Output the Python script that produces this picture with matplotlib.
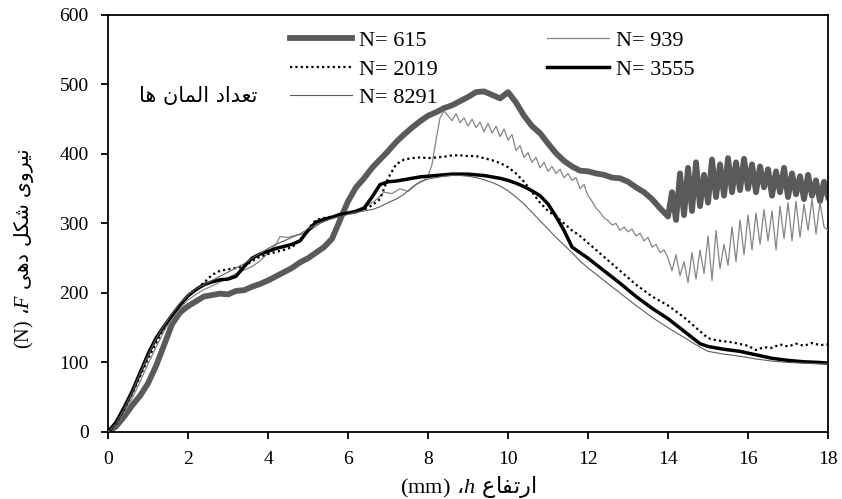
"""Forming force vs. height for different element counts (PNG)."""

import matplotlib

matplotlib.use("Agg")
import matplotlib.pyplot as plt

plt.rcParams["font.family"] = ["Liberation Serif", "DejaVu Sans"]
plt.rcParams["mathtext.fontset"] = "custom"
plt.rcParams["mathtext.rm"] = "Liberation Serif"
plt.rcParams["mathtext.it"] = "Liberation Serif:italic"

# N = 615 (thick gray)
x_615 = [0, 0.2, 0.4, 0.6, 0.8, 1.0, 1.2, 1.4, 1.6, 1.8, 2.0, 2.2, 2.4, 2.6, 2.8, 3.0,
         3.2, 3.4, 3.6, 3.8, 4.0, 4.2, 4.4, 4.6, 4.8, 5.0, 5.2, 5.4, 5.6, 5.8, 6.0,
         6.2, 6.4, 6.6, 6.8, 7.0, 7.2, 7.4, 7.6, 7.8, 8.0, 8.2, 8.4, 8.6, 8.8, 9.0,
         9.2, 9.4, 9.6, 9.8, 10.0, 10.2, 10.4, 10.6, 10.8, 11.0, 11.2, 11.4, 11.6,
         11.8, 12.0, 12.2, 12.4, 12.6, 12.8, 13.0, 13.2, 13.4, 13.6, 13.8, 14.0,
         14.1, 14.2, 14.3, 14.4, 14.5, 14.6, 14.7, 14.8, 14.9, 15.0, 15.1, 15.2,
         15.3, 15.4, 15.5, 15.6, 15.7, 15.8, 15.9, 16.0, 16.1, 16.2, 16.3, 16.4,
         16.5, 16.6, 16.7, 16.8, 16.9, 17.0, 17.1, 17.2, 17.3, 17.4, 17.5, 17.6,
         17.7, 17.8, 17.9, 18.0]
f_615 = [0, 8, 22, 38, 52, 70, 95, 125, 155, 172, 181, 188, 195, 197, 199, 198,
         203, 204, 209, 213, 218, 224, 230, 236, 244, 250, 258, 266, 278, 305, 332,
         352, 365, 380, 392, 404, 417, 428, 438, 447, 455, 460, 466, 470, 476, 482,
         489, 490, 485, 480, 489, 474, 455, 440, 430, 415, 401, 390, 382,
         376, 375, 372, 370, 366, 365, 360, 352, 345, 335, 322, 310,
         345, 305, 372, 312, 380, 318, 388, 325, 370, 330, 392, 338,
         385, 340, 394, 345, 388, 348, 393, 350, 385, 345, 382, 352,
         378, 340, 375, 345, 380, 338, 372, 342, 368, 335, 370, 340,
         362, 332, 360, 338]

# N = 939 (thin gray, noisy)
x_939 = [0, 0.2, 0.4, 0.6, 0.8, 1.0, 1.2, 1.4, 1.6, 1.8, 2.0, 2.2, 2.4, 2.6, 2.8, 3.0,
         3.2, 3.4, 3.6, 3.8, 4.0, 4.2, 4.3, 4.5, 4.7, 4.9, 5.1, 5.3, 5.5, 5.7, 5.9,
         6.1, 6.3, 6.5, 6.7, 6.9, 7.1, 7.3, 7.5, 7.7, 7.9, 8.0, 8.1, 8.2, 8.3, 8.4,
         8.5, 8.6, 8.7, 8.8, 8.9, 9.0, 9.1, 9.2, 9.3, 9.4, 9.5, 9.6, 9.7, 9.8, 9.9,
         10.0, 10.1, 10.2, 10.3, 10.4, 10.5, 10.6, 10.7, 10.8, 10.9, 11.0, 11.1,
         11.2, 11.3, 11.4, 11.5, 11.6, 11.7, 11.8, 11.9, 12.0, 12.1, 12.2, 12.3,
         12.4, 12.5, 12.6, 12.7, 12.8, 12.9, 13.0, 13.1, 13.2, 13.3, 13.4, 13.5,
         13.6, 13.7, 13.8, 13.9, 14.0, 14.1, 14.2, 14.3, 14.4, 14.5, 14.6, 14.7,
         14.8, 14.9, 15.0, 15.1, 15.2, 15.3, 15.4, 15.5, 15.6, 15.7, 15.8, 15.9,
         16.0, 16.1, 16.2, 16.3, 16.4, 16.5, 16.6, 16.7, 16.8, 16.9, 17.0, 17.1,
         17.2, 17.3, 17.4, 17.5, 17.6, 17.7, 17.8, 17.9, 18.0]
f_939 = [0, 10, 28, 48, 72, 98, 122, 145, 163, 178, 190, 198, 205, 210, 216, 222,
         228, 233, 238, 246, 258, 270, 281, 280, 283, 285, 292, 300, 306, 312, 315,
         318, 322, 326, 334, 345, 343, 350, 346, 356, 362, 368, 385, 420, 452, 462,
         455, 448, 458, 445, 452, 440, 450, 438, 446, 432, 444, 430, 440, 425, 436,
         420, 428, 405, 412, 395, 402, 388, 395, 380, 388, 375, 382,
         372, 378, 366, 372, 362, 366, 350, 356, 340, 332, 322, 316,
         308, 304, 298, 300, 290, 295, 288, 292, 282, 286, 275, 280,
         266, 270, 258, 262, 250, 232, 255, 225, 245, 215, 258, 220,
         262, 228, 282, 218, 290, 235, 270, 240, 295, 245, 305, 255,
         312, 262, 315, 270, 320, 275, 318, 262, 325, 278, 330, 275,
         332, 280, 328, 290, 335, 285, 330, 295, 290]

# N = 2019 (dotted)
x_2019 = [0, 0.2, 0.4, 0.6, 0.8, 1.0, 1.2, 1.4, 1.6, 1.8, 2.0, 2.2, 2.4, 2.6, 2.8,
          3.0, 3.2, 3.4, 3.6, 3.8, 4.0, 4.2, 4.4, 4.6, 4.8, 5.0, 5.2, 5.4, 5.6, 5.8,
          6.0, 6.2, 6.4, 6.6, 6.8, 7.0, 7.2, 7.4, 7.6, 7.8, 8.0, 8.2, 8.4, 8.6, 8.8,
          9.0, 9.2, 9.4, 9.6, 9.8, 10.0, 10.2, 10.4, 10.6, 10.8, 11.0, 11.2, 11.4,
          11.6, 11.8, 12.0, 12.4, 12.8, 13.2, 13.6, 14.0, 14.4, 14.8, 15.0, 15.2,
          15.6, 16.0, 16.2, 16.4, 16.6, 16.8, 17.0, 17.2, 17.4, 17.6, 17.8, 18.0]
f_2019 = [0, 12, 32, 55, 80, 105, 128, 150, 168, 182, 195, 205, 215, 226, 232,
          234, 236, 238, 246, 252, 256, 259, 262, 266, 276, 292, 305, 308, 310, 312,
          315, 317, 320, 326, 335, 365, 385, 392, 394, 395, 394, 395, 396, 398, 398,
          397, 397, 394, 391, 387, 381, 372, 360, 345, 330, 318, 310, 300,
          290, 282, 272, 252, 232, 212, 195, 182, 165, 145, 135, 132,
          129, 124, 118, 122, 121, 126, 123, 127, 124, 128, 125, 126]

# N = 3555 (thick black)
x_3555 = [0, 0.2, 0.4, 0.6, 0.8, 1.0, 1.2, 1.4, 1.6, 1.8, 2.0, 2.2, 2.4, 2.6, 2.8,
          3.0, 3.2, 3.4, 3.6, 3.8, 4.0, 4.2, 4.4, 4.6, 4.8, 5.0, 5.2, 5.4, 5.6, 5.8,
          6.0, 6.2, 6.4, 6.6, 6.8, 7.0, 7.2, 7.4, 7.6, 7.8, 8.0, 8.2, 8.4, 8.6, 8.8,
          9.0, 9.2, 9.4, 9.6, 9.8, 10.0, 10.2, 10.4, 10.6, 10.8, 11.0, 11.2, 11.4,
          11.6, 11.8, 12.0, 12.4, 12.8, 13.2, 13.6, 14.0, 14.4, 14.8, 15.0, 15.4,
          15.8, 16.2, 16.6, 17.0, 17.4, 17.8, 18.0]
f_3555 = [0, 14, 35, 58, 85, 112, 135, 152, 168, 183, 196, 205, 212, 216, 219,
          220, 224, 238, 250, 256, 260, 264, 267, 270, 275, 290, 302, 306, 309, 313,
          315, 317, 322, 338, 356, 360, 361, 363, 365, 367, 368, 369, 370, 371, 371,
          371, 370, 369, 367, 365, 362, 358, 353, 347, 340, 328, 310, 290,
          266, 258, 250, 232, 214, 195, 178, 163, 145, 127, 123, 119,
          116, 111, 106, 103, 101, 100, 99]

# N = 8291 (thin dark gray)
x_8291 = [0, 0.2, 0.4, 0.6, 0.8, 1.0, 1.2, 1.4, 1.6, 1.8, 2.0, 2.2, 2.4, 2.6, 2.8,
          3.0, 3.2, 3.4, 3.6, 3.8, 4.0, 4.2, 4.4, 4.6, 4.8, 5.0, 5.2, 5.4, 5.6, 5.8,
          6.0, 6.2, 6.4, 6.6, 6.8, 7.0, 7.2, 7.4, 7.6, 7.8, 8.0, 8.2, 8.4, 8.6, 8.8,
          9.0, 9.2, 9.4, 9.6, 9.8, 10.0, 10.2, 10.4, 10.6, 10.8, 11.0, 11.2, 11.4,
          11.6, 11.8, 12.0, 12.4, 12.8, 13.2, 13.6, 14.0, 14.4, 14.8, 15.0, 15.4,
          15.8, 16.2, 16.6, 17.0, 17.4, 17.8, 18.0]
f_8291 = [0, 12, 33, 57, 84, 110, 134, 153, 170, 185, 197, 206, 212, 218, 224,
          230, 236, 242, 250, 257, 264, 270, 275, 280, 285, 292, 298, 303, 307, 310,
          313, 316, 318, 320, 324, 330, 335, 342, 352, 360, 364, 366, 368, 369, 369,
          368, 366, 363, 359, 354, 347, 338, 328, 316, 304, 292, 280, 269,
          258, 246, 236, 218, 200, 182, 165, 150, 136, 122, 116, 112,
          109, 105, 102, 100, 99, 98, 98]

x_ticks = [0, 2, 4, 6, 8, 10, 12, 14, 16, 18]
y_ticks = [0, 100, 200, 300, 400, 500, 600]

# Persian text, written in visual order with presentation forms
w_niroo = "\uFBFC\uFEED\uFEAE\uFBFF\uFEE7"
w_shekl = "\uFEDE\uFB91\uFEB7"
w_dehi = "\uFBFD\uFEEB\uFEA9"
w_ertefa = "\uFEC9\uFE8E\uFED4\uFE97\uFEAD\uFE8D"
w_tedad = "\uFEA9\uFE8D\uFEAA\uFECC\uFE97"
w_elman = "\uFEE5\uFE8E\uFEE4\uFEDF\uFE8D"
w_ha = "\uFE8E\uFEEB"

fig = plt.figure(figsize=(8.42, 4.99), dpi=100)
ax = fig.add_axes([0.1283, 0.1343, 0.8551, 0.8357])

ax.plot(x_615, f_615, color="#5a5a5a", lw=4.2, solid_joinstyle="round", label="N= 615", zorder=2)
ax.plot(x_939, f_939, color="#858585", lw=0.9, label="N= 939", zorder=3)
ax.plot(x_2019, f_2019, color="black", lw=1.6, linestyle=(0, (1, 1.4)), label="N= 2019", zorder=4)
ax.plot(x_3555, f_3555, color="black", lw=2.5, label="N= 3555", zorder=5)
ax.plot(x_8291, f_8291, color="#5e5e5e", lw=0.8, label="N= 8291", zorder=6)

ax.set_xlim(0, 18)
ax.set_ylim(0, 600)
ax.set_xticks(x_ticks)
ax.set_yticks(y_ticks)
ax.tick_params(direction="out", length=5, width=1.3, labelsize=14)
ax.tick_params(axis="x", pad=9)
ax.tick_params(axis="y", pad=9)
for sp in ax.spines.values():
    sp.set_linewidth(1.3)

ax.set_xlabel(r"$\mathrm{(mm)}$ ،$h$ " + w_ertefa, fontsize=16, family="DejaVu Sans")
ax.xaxis.set_label_coords(0.5, -0.10)
ax.set_ylabel(r"$\mathrm{(N)}$ ،$F$ " + w_dehi + " " + w_shekl + " " + w_niroo,
              fontsize=14.5, family="DejaVu Sans")
ax.yaxis.set_label_coords(-0.10, 0.44)

ax.text(2.25, 483, w_ha + " " + w_elman + " " + w_tedad, ha="center", va="center",
        fontsize=15, family="DejaVu Sans")

h, lab = ax.get_legend_handles_labels()
order = [0, 2, 4, 1, 3]
ax.legend([h[i] for i in order], [lab[i] for i in order], ncol=2, frameon=False,
          loc="upper left", bbox_to_anchor=(0.253, 0.963), fontsize=16,
          handlelength=2.8, handletextpad=0.3, columnspacing=4.9,
          labelspacing=0.36, borderaxespad=0, borderpad=0)

fig.savefig("out.png", dpi=100)
